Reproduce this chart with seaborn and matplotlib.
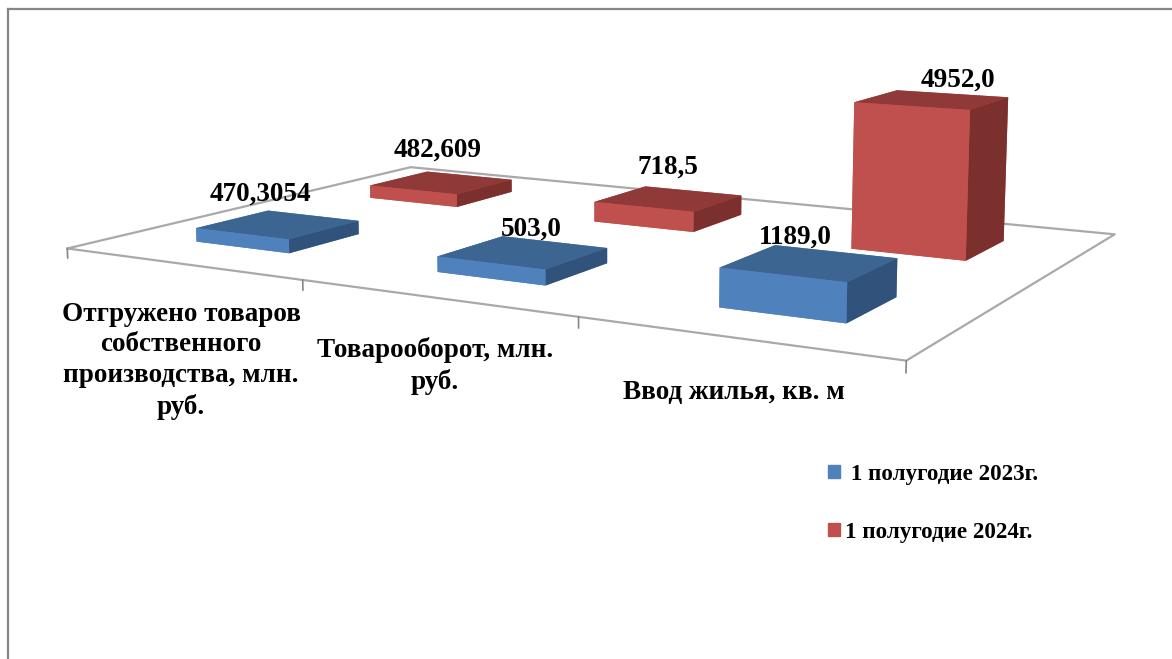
import seaborn as sns
import matplotlib
matplotlib.use('Agg')
import matplotlib.pyplot as plt
from matplotlib.patches import Patch
from mpl_toolkits.mplot3d import proj3d

categories = ['Отгружено товаров\nсобственного\nпроизводства, млн.\nруб.',
              'Товарооборот, млн.\nруб.',
              'Ввод жилья, кв. м']
series_names = [' 1 полугодие 2023г.', '1 полугодие 2024г.']
values_2023 = [470.3054, 503.0, 1189.0]
values_2024 = [482.609, 718.5, 4952.0]
labels_2023 = ['470,3054', '503,0', '1189,0']
labels_2024 = ['482,609', '718,5', '4952,0']

# bottom, top, front, back, left, right
blue_faces = ['#4F81BD', '#3C6592', '#4F81BD', '#4F81BD', '#4F81BD', '#31527B']
red_faces = ['#C0504D', '#8F3A38', '#C0504D', '#C0504D', '#C0504D', '#7C302E']

W, H = 1172, 659
sns.set_style('white')
plt.rcParams['font.family'] = ['Liberation Serif', 'DejaVu Serif']
plt.rcParams['font.weight'] = 'bold'

fig = plt.figure(figsize=(W / 100, H / 100), dpi=100)

# the grey frame of the picture, only left and top
bg = fig.add_axes([8 / W, -0.01, 1.01, (H - 9) / H + 0.01])
bg.set_xticks([])
bg.set_yticks([])
sns.despine(ax=bg, top=False, right=True, bottom=True)
for side in ['left', 'top']:
    bg.spines[side].set_color('#868686')
    bg.spines[side].set_linewidth(1.6)

# camera values fitted against the reference floor corners
S, cx, cy = 1040, 586.4, 168.6
ax = fig.add_axes([(cx - S / 2) / W, (H - cy - S / 2) / H, S / W, S / H], projection='3d')
ax.patch.set_visible(False)
ax.set_xlim(0, 3, view_margin=0)
ax.set_ylim(0, 2, view_margin=0)
ax.set_zlim(0, 6000, view_margin=0)
ax.set_box_aspect((3, 2.003, 0.6031))
ax.view_init(elev=8.712, azim=-60.24)
ax.set_proj_type('persp', focal_length=0.3528)
ax.set_axis_off()
ax.computed_zorder = False

# floor
grey = '#A9A9A9'
ax.plot([0, 3, 3, 0, 0], [0, 0, 2, 2, 0], [0, 0, 0, 0, 0], color=grey, lw=1.6, zorder=1, clip_on=False)
for i in range(4):
    ax.plot([i, i], [0, 0], [0, -330], color='#868686', lw=1.2, zorder=1, clip_on=False)

bar_w, bar_d = 0.4023, 0.3852
for row, vals, faces, zo in [(1, values_2024, red_faces, 2), (0, values_2023, blue_faces, 3)]:
    for i, v in enumerate(vals):
        ax.bar3d(i + 0.5 - bar_w / 2, row + 0.5 - bar_d / 2, 0, bar_w, bar_d, v,
                 color=faces, shade=False, linewidth=0, zorder=zo)

# value labels, nudged in pixels from the top of their bar
nudge_2023 = [(-17, 17), (8, 9), (-14, 11)]
nudge_2024 = [(-4, 21), (-1, 19), (26, 6)]
proj = ax.get_proj()
for row, vals, labs, nudges in [(1, values_2024, labels_2024, nudge_2024),
                                (0, values_2023, labels_2023, nudge_2023)]:
    for i, v in enumerate(vals):
        xp, yp, _ = proj3d.proj_transform(i + 0.5, row + 0.5, v + 450, proj)
        ax.annotate(labs[i], (xp, yp), xytext=nudges[i], textcoords='offset pixels',
                    fontsize=19.5, ha='center', va='center', zorder=5, color='black',
                    annotation_clip=False)

# category labels
label_xy = [(181, 361), (435, 366), (734, 392)]
for name, (lx, ly) in zip(categories, label_xy):
    fig.text(lx / W, 1 - ly / H, name, ha='center', va='center', fontsize=19.5,
             linespacing=1.3, color='black')

handles = [Patch(color='#4F81BD'), Patch(color='#C0504D')]
fig.legend(handles, series_names, loc='upper left', bbox_to_anchor=(828 / W, 1 - 464 / H),
           frameon=False, fontsize=16.6, handlelength=0.5, handleheight=0.5,
           handletextpad=0.24, labelspacing=1.6, borderpad=0, borderaxespad=0,
           labelcolor='black')

fig.savefig('out.png', dpi=100)
